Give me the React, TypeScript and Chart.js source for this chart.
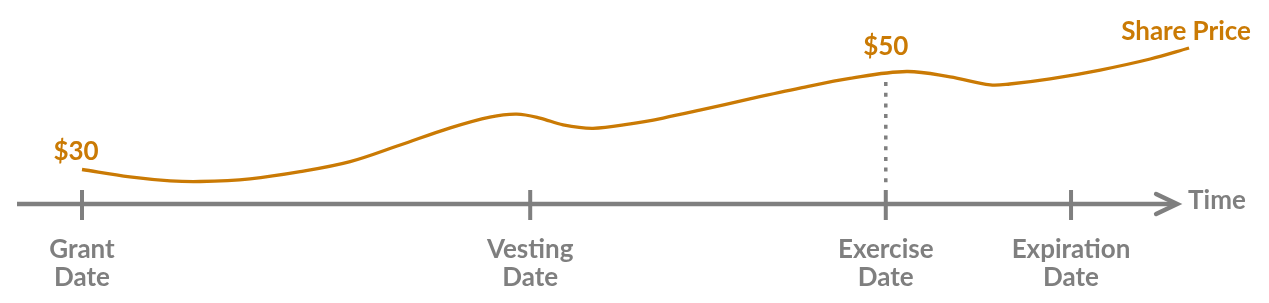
import React, { useEffect, useRef } from "react";
import { Chart, registerables } from "chart.js";

Chart.register(...registerables);

// ---- data ----
// time in months since grant, share price in dollars
const MONTHS = [0, 6.4, 11.8, 15.8, 22.5, 29.2, 35.9, 42.6, 49.3, 54.6, 58.2, 61.3, 64.4, 68.4, 73.4, 77.8, 82.7, 89.4, 96.1, 102.8, 110.4, 116.2, 121.6, 124.2, 129.6, 136.3, 143.0, 148.2];
const PRICES = [30.1, 28.6, 27.8, 27.65, 28.2, 29.65, 31.7, 35.1, 38.6, 40.8, 41.4, 40.6, 39.2, 38.5, 39.4, 40.6, 42.2, 44.5, 46.7, 48.7, 50.1, 49.0, 47.35, 47.55, 48.6, 50.4, 52.65, 54.9];

const EVENT_NAMES = [["Grant", "Date"], ["Vesting", "Date"], ["Exercise", "Date"], ["Expiration", "Date"]];
const EVENT_MONTHS = [0, 60, 107.6, 132.4];

const PRICE_LABELS = ["$30", "$50"];
const PRICE_LABEL_MONTHS = [0, 107.6];
const PRICE_LABEL_VALUES = [30, 50];

const SERIES_LABEL = "Share Price";
const AXIS_LABEL = "Time";
const TIME_AXIS_RANGE = [-8.7, 146.6];

// ---- view / style ----
const X_MIN = -10.977;
const X_MAX = 158.9;
const Y_MIN = 2.857;
const Y_MAX = 64.69;
const AXIS_Y = 204;
const GRAY = "#7f7f7f";
const ORANGE = "#ca7a04";
const FONT = "Lato, 'Open Sans', sans-serif";

const overlay = {
  id: "timelineOverlay",
  afterDatasetsDraw(chart: any) {
    const ctx = chart.ctx as CanvasRenderingContext2D;
    const xs = chart.scales.x;
    const ys = chart.scales.y;
    ctx.save();

    // time axis line
    const ax0 = xs.getPixelForValue(TIME_AXIS_RANGE[0]);
    const ax1 = xs.getPixelForValue(TIME_AXIS_RANGE[1]);
    ctx.strokeStyle = GRAY;
    ctx.lineWidth = 4.5;
    ctx.lineCap = "butt";
    ctx.beginPath();
    ctx.moveTo(ax0, AXIS_Y);
    ctx.lineTo(ax1 - 3, AXIS_Y);
    ctx.stroke();
    // arrow head
    ctx.lineJoin = "miter";
    ctx.lineCap = "round";
    ctx.beginPath();
    ctx.moveTo(ax1 - 21, AXIS_Y - 10);
    ctx.lineTo(ax1, AXIS_Y);
    ctx.lineTo(ax1 - 21, AXIS_Y + 10);
    ctx.stroke();

    // ticks + labels
    ctx.lineCap = "butt";
    ctx.lineWidth = 4;
    ctx.fillStyle = GRAY;
    ctx.font = `bold 26px ${FONT}`;
    ctx.textAlign = "center";
    ctx.textBaseline = "alphabetic";
    EVENT_MONTHS.forEach((m, i) => {
      const px = xs.getPixelForValue(m);
      ctx.beginPath();
      ctx.moveTo(px, AXIS_Y - 14);
      ctx.lineTo(px, AXIS_Y + 16);
      ctx.stroke();
      ctx.fillText(EVENT_NAMES[i][0], px, 258);
      ctx.fillText(EVENT_NAMES[i][1], px, 286);
    });

    // Time label
    ctx.textAlign = "left";
    ctx.fillText(AXIS_LABEL, ax1 + 11, 209);

    // dotted line at exercise
    const exPx = xs.getPixelForValue(EVENT_MONTHS[2]);
    const exPy = ys.getPixelForValue(PRICE_LABEL_VALUES[1]);
    ctx.setLineDash([4, 6.7]);
    ctx.lineWidth = 3.5;
    ctx.beginPath();
    ctx.moveTo(exPx, exPy + 10);
    ctx.lineTo(exPx, AXIS_Y - 20);
    ctx.stroke();
    ctx.setLineDash([]);

    // price labels
    ctx.fillStyle = ORANGE;
    ctx.textAlign = "center";
    PRICE_LABELS.forEach((t, i) => {
      const px = xs.getPixelForValue(PRICE_LABEL_MONTHS[i]);
      const py = ys.getPixelForValue(PRICE_LABEL_VALUES[i]);
      ctx.fillText(t, px + (i === 0 ? -6 : 0), py - (i === 0 ? 10 : 17));
    });

    // series label
    const endX = xs.getPixelForValue(MONTHS[MONTHS.length - 1]);
    const endY = ys.getPixelForValue(PRICES[PRICES.length - 1]);
    ctx.fillText(SERIES_LABEL, endX - 3, endY - 8);

    ctx.restore();
  },
};

export default function App() {
  const canvasRef = useRef<HTMLCanvasElement | null>(null);

  useEffect(() => {
    document.body.style.margin = "0";
    const canvas = canvasRef.current;
    if (!canvas) return;
    const chart = new Chart(canvas, {
      type: "line",
      data: {
        datasets: [
          {
            label: SERIES_LABEL,
            data: MONTHS.map((m, i) => ({ x: m, y: PRICES[i] })),
            borderColor: ORANGE,
            borderWidth: 3.3,
            pointRadius: 0,
            tension: 0.35,
            fill: false,
          },
        ],
      },
      options: {
        animation: false,
        responsive: false,
        maintainAspectRatio: false,
        layout: { padding: 0 },
        scales: {
          x: { type: "linear", min: X_MIN, max: X_MAX, display: false },
          y: { type: "linear", min: Y_MIN, max: Y_MAX, display: false },
        },
        plugins: {
          legend: { display: false },
          tooltip: { enabled: false },
        },
      },
      plugins: [overlay],
    } as any);
    return () => chart.destroy();
  }, []);

  return (
    <div style={{ width: 1269, height: 303, background: "#fff" }}>
      <canvas ref={canvasRef} width={1269} height={303} />
    </div>
  );
}
